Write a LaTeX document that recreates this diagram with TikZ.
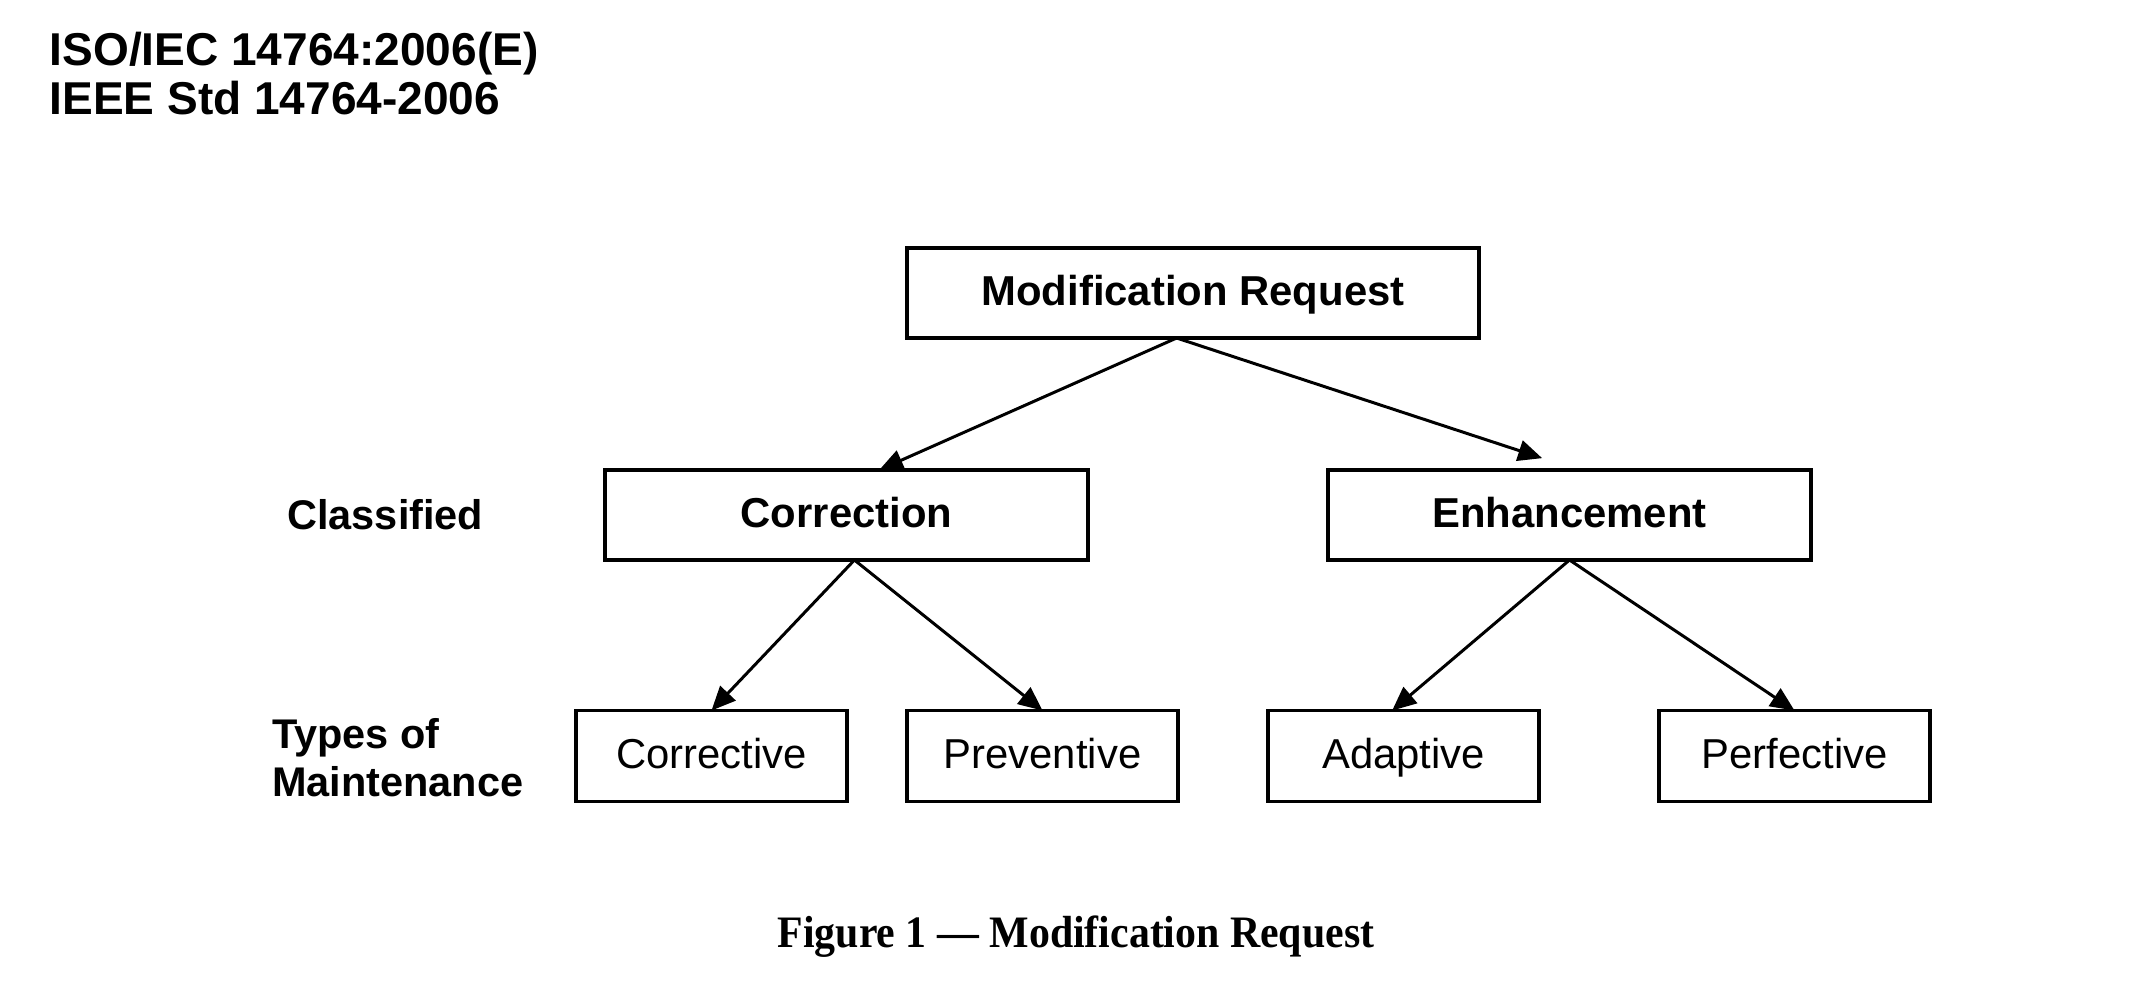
\documentclass[tikz,border=0pt]{standalone}
\usepackage{fontspec}
\setmainfont{Liberation Sans}
\newfontfamily\capfont[FakeStretch=0.93]{Liberation Serif}
\usetikzlibrary{arrows.meta,positioning}

\begin{document}
\begin{tikzpicture}[>={Triangle[length=0.24cm,width=0.21cm]},
  font=\fontsize{11.9pt}{13.7pt}\selectfont,
  box/.style={draw, line width=0.95pt, inner sep=0pt, outer sep=0pt, minimum height=0.90cm,
    text height=0.80em, text depth=0.10em, align=center},
  topbox/.style={box, minimum width=5.72cm, font=\fontsize{11.9pt}{13.7pt}\selectfont\bfseries},
  classbox/.style={box, minimum width=4.83cm, font=\fontsize{11.9pt}{13.7pt}\selectfont\bfseries},
  typebox/.style={box, minimum width=2.71cm, minimum height=0.91cm},
  rowlabel/.style={inner sep=0pt, align=left, font=\fontsize{11.8pt}{13.7pt}\selectfont\bfseries},
  arr/.style={->, line width=0.85pt}]
\useasboundingbox (0,0) rectangle (21.38,-9.80);
% header
\node[anchor=north west, inner sep=0pt, align=left, font=\fontsize{13.1pt}{13.95pt}\selectfont\bfseries] (hdr) at (0.49,-0.31)
  {ISO/IEC 14764:2006(E)\\IEEE Std 14764-2006};
% tree
\node[topbox] (mr) at (11.93,-2.93) {Modification Request};
\node[classbox] (corr) at (8.465,-5.15) {Correction};
\node[classbox, right=2.40cm of corr] (enh) {Enhancement};
\node[typebox] (cor) at (7.115,-7.56) {Corrective};
\node[typebox, right=0.60cm of cor] (prev) {Preventive};
\node[typebox, right=0.90cm of prev] (adap) {Adaptive};
\node[typebox, right=1.20cm of adap] (perf) {Perfective};
% row labels
\node[rowlabel, left=1.21cm of corr] (lclass) {Classified};
\node[rowlabel, left=0.52cm of cor, yshift=-0.02cm] (ltypes) {Types of\\Maintenance};
\draw[arr] (mr.-110) -- (corr.54);
\draw[arr, shorten >=0.38cm] (mr.-110) -- (enh.79);
\draw[arr] (corr.-80) -- (cor.north);
\draw[arr] (corr.-80) -- (prev.north);
\draw[arr] (enh.south) -- (adap.104);
\draw[arr] (enh.south) -- (perf.north);
% caption
\node[font=\fontsize{12.8pt}{14pt}\capfont\bfseries] (cap) at (10.76,-9.37) {Figure 1 — Modification Request};
\end{tikzpicture}
\end{document}
